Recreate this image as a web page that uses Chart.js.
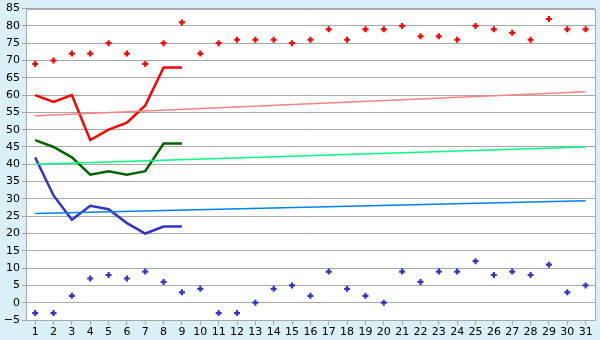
<!DOCTYPE html>
<html>
<head>
<meta charset="utf-8">
<script src="https://cdn.jsdelivr.net/npm/chart.js@4/dist/chart.umd.min.js"></script>
<style>
html,body{margin:0;padding:0;background:#daeff6;}
#wrap{width:600px;height:340px;}
</style>
</head>
<body>
<div id="wrap"><canvas id="c" width="600" height="340"></canvas></div>
<script>
const days = ['1','2','3','4','5','6','7','8','9','10','11','12','13','14','15','16','17','18','19','20','21','22','23','24','25','26','27','28','29','30','31'];
const highPoints = [69,70,72,72,75,72,69,75,81,72,75,76,76,76,75,76,79,76,79,79,80,77,77,76,80,79,78,76,82,79,79];
const lowPoints = [-3,-3,2,7,8,7,9,6,3,4,-3,-3,0,4,5,2,9,4,2,0,9,6,9,9,12,8,9,8,11,3,5];
const highLine = [60,58,60,47,50,52,57,68,68];
const meanLine = [47,45,42,37,38,37,38,46,46];
const lowLine = [42,31,24,28,27,23,20,22,22];
const highTrend = [54,61];
const meanTrend = [40,45];
const lowTrend = [25.8,29.5];
const yTicks = {min:-5, max:85, step:5};

function trend(ends){
  const a = days.map(()=>null);
  a[0]=ends[0]; a[days.length-1]=ends[1];
  return a;
}

const bgPlugin = {
  id:'bg',
  beforeDraw(chart){
    const {ctx, chartArea:a} = chart;
    ctx.save();
    ctx.fillStyle='#daeff6';
    ctx.fillRect(0,0,chart.width,chart.height);
    ctx.fillStyle='#ffffff';
    ctx.fillRect(a.left,a.top,a.right-a.left,a.bottom-a.top);
    ctx.restore();
  },
  afterDraw(chart){
    const {ctx, chartArea:a} = chart;
    ctx.save();
    ctx.strokeStyle='#a8a8a8';
    ctx.lineWidth=1;
    ctx.strokeRect(Math.round(a.left)+0.5,Math.round(a.top)+0.5,Math.round(a.right-a.left),Math.round(a.bottom-a.top));
    ctx.restore();
  }
};

const ptCommon = {showLine:false, pointStyle:'cross', pointRadius:3, borderWidth:2.2, pointHoverRadius:3};

new Chart(document.getElementById('c'), {
  type:'line',
  data:{
    labels:days,
    datasets:[
      {data:trend(highTrend), borderColor:'#ff8080', borderWidth:1.5, pointRadius:0, spanGaps:true},
      {data:trend(meanTrend), borderColor:'#00ff80', borderWidth:1.5, pointRadius:0, spanGaps:true},
      {data:trend(lowTrend), borderColor:'#0080ff', borderWidth:1.5, pointRadius:0, spanGaps:true},
      {data:highLine, borderColor:'#ff0000', borderWidth:2.5, pointRadius:0},
      {data:meanLine, borderColor:'#006400', borderWidth:2.5, pointRadius:0},
      {data:lowLine, borderColor:'#3333cc', borderWidth:2.5, pointRadius:0},
      Object.assign({data:highPoints, borderColor:'#ff0000', backgroundColor:'#ff0000'}, ptCommon),
      Object.assign({data:lowPoints, borderColor:'#3333cc', backgroundColor:'#3333cc'}, ptCommon)
    ]
  },
  options:{
    responsive:false,
    animation:false,
    layout:{padding:{top:5,right:5,left:0,bottom:0}},
    plugins:{legend:{display:false}, tooltip:{enabled:false}},
    elements:{line:{tension:0}},
    scales:{
      x:{
        offset:true,
        grid:{drawOnChartArea:false, drawTicks:true, tickLength:5, color:'#a8a8a8', offset:false},
        border:{display:true, color:'#a8a8a8'},
        ticks:{color:'#000', font:{family:'DejaVu Sans', size:11}, padding:1, maxRotation:0, autoSkip:false},
        afterFit(s){ s.height = 20; }
      },
      y:{
        min:yTicks.min, max:yTicks.max,
        grid:{color:'#a8a8a8', tickLength:4},
        border:{display:true, color:'#a8a8a8'},
        ticks:{stepSize:yTicks.step, color:'#000', font:{family:'DejaVu Sans', size:11}, padding:2,
          callback:(v)=> (v<0? '\u2212'+Math.abs(v) : String(v))},
        afterFit(s){ s.width = 26; }
      }
    }
  },
  plugins:[bgPlugin]
});
</script>
</body>
</html>
